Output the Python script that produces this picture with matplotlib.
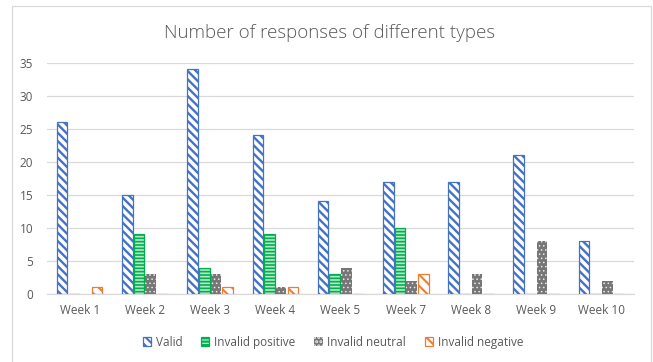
import matplotlib
matplotlib.use("Agg")
import matplotlib.pyplot as plt
from matplotlib.patches import Rectangle
import numpy as np

# Weekly counts of each response type
weeks = ["Week 1", "Week 2", "Week 3", "Week 4", "Week 5",
         "Week 7", "Week 8", "Week 9", "Week 10"]
valid = [26, 15, 34, 24, 14, 17, 17, 21, 8]
invalid_positive = [0, 9, 4, 9, 3, 10, 0, 0, 0]
invalid_neutral = [0, 3, 3, 1, 4, 2, 3, 8, 2]
invalid_negative = [1, 0, 1, 1, 0, 3, 0, 0, 0]

series_names = ["Valid", "Invalid positive", "Invalid neutral", "Invalid negative"]
yticks = [0, 5, 10, 15, 20, 25, 30, 35]

TEXT = "#595959"
GRID = "#d9d9d9"

plt.rcParams["font.family"] = ["Open Sans", "DejaVu Sans"]

fig = plt.figure(figsize=(6.53, 3.62), dpi=100)
ax = fig.add_axes([0.072, 0.188, 0.899, 0.639])

x = np.arange(len(weeks))
pitch = 0.179
width = 0.162
offsets = (np.arange(4) - 1.5) * pitch

styles = [
    dict(facecolor="white", edgecolor="#4472C4", hatch="\\\\\\\\", linewidth=0.9),
    dict(facecolor="#b8e8c8", edgecolor="#00B050", hatch="-----", linewidth=0.9),
    dict(facecolor="#767676", edgecolor="#e8e8e8", hatch="....", linewidth=0.0),
    dict(facecolor="white", edgecolor="#ED7D31", hatch="\\\\\\", linewidth=0.9),
]
hatch_widths = [1.7, 1.2, 0.6, 1.5]
data = [valid, invalid_positive, invalid_neutral, invalid_negative]

handles = []
for vals, off, st, hw, name in zip(data, offsets, styles, hatch_widths, series_names):
    plt.rcParams["hatch.linewidth"] = hw
    b = ax.bar(x + off, vals, width=width, label=name, zorder=3, **st)
    handles.append(b)

ax.set_xlim(-0.5, len(weeks) - 0.5)
ax.set_ylim(0, 35)
ax.set_yticks(yticks)
ax.set_xticks(x)
ax.set_xticklabels(weeks)
ax.tick_params(axis="both", length=0, labelsize=8.5, colors=TEXT)
ax.tick_params(axis="y", pad=10)
ax.tick_params(axis="x", pad=7)
ax.grid(axis="y", color=GRID, linewidth=0.9, zorder=0)
for side in ["top", "right", "left"]:
    ax.spines[side].set_visible(False)
ax.spines["bottom"].set_color(GRID)
ax.spines["bottom"].set_linewidth(0.9)

fig.text(0.505, 0.909, "Number of responses of different types",
         ha="center", va="center", fontsize=13.5, color=TEXT, fontweight="light")

leg = fig.legend(handles=handles, labels=series_names, loc="center",
                 bbox_to_anchor=(0.51, 0.055), ncol=4, frameon=False,
                 fontsize=8.5, handlelength=0.7, handleheight=0.7,
                 handletextpad=0.4, columnspacing=1.6)
for t in leg.get_texts():
    t.set_color(TEXT)

# chart area border
fig.patches.append(Rectangle((0.018, -0.02), 0.979, 1.003,
                             transform=fig.transFigure, fill=False,
                             edgecolor=GRID, linewidth=0.9))

fig.savefig("out.png", dpi=100)
